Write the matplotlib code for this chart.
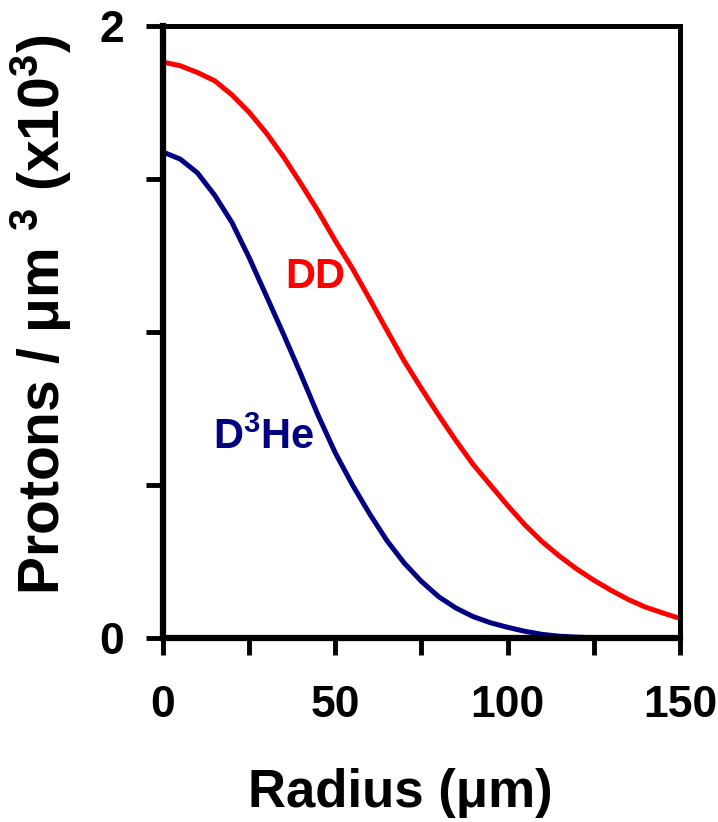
import matplotlib
matplotlib.use("Agg")
import matplotlib.pyplot as plt

radius = [0, 5, 10, 15, 20, 25, 30, 35, 40, 45, 50, 55, 60, 65, 70, 75, 80,
          85, 90, 95, 100, 105, 110, 115, 120, 125, 130, 135, 140, 145, 150]
dd = [1.882, 1.870, 1.848, 1.821, 1.775, 1.718, 1.650, 1.572, 1.485, 1.395,
      1.298, 1.207, 1.107, 1.005, 0.905, 0.815, 0.728, 0.645, 0.567, 0.500,
      0.433, 0.370, 0.315, 0.268, 0.226, 0.189, 0.156, 0.126, 0.101, 0.082, 0.064]
d3he = [1.588, 1.565, 1.520, 1.447, 1.358, 1.243, 1.118, 0.992, 0.862, 0.728,
        0.605, 0.500, 0.405, 0.318, 0.245, 0.185, 0.135, 0.098, 0.070, 0.050,
        0.035, 0.022, 0.012, 0.006, 0.003, 0.001, 0.0, 0.0, 0.0, 0.0, 0.0]

x_ticks = [0, 25, 50, 75, 100, 125, 150]
x_labels = ["0", "", "50", "", "100", "", "150"]
y_ticks = [0, 0.5, 1.0, 1.5, 2.0]
y_labels = ["0", "", "", "", "2"]

plt.rcParams['font.family'] = ['Liberation Sans', 'DejaVu Sans']
plt.rcParams['font.weight'] = 'bold'
plt.rcParams['mathtext.fontset'] = 'custom'
plt.rcParams['mathtext.rm'] = 'Liberation Sans:bold'
plt.rcParams['mathtext.bf'] = 'Liberation Sans:bold'
plt.rcParams['mathtext.it'] = 'Liberation Sans:bold'
plt.rcParams['mathtext.default'] = 'bf'

fig = plt.figure(figsize=(7.18, 8.22), dpi=100)
ax = fig.add_axes([0.227, 0.2238, 0.720, 0.7446])

ax.plot(radius, dd, color='#FF0000', lw=3.6, solid_capstyle='butt')
ax.plot(radius, d3he, color='#000080', lw=3.6, solid_capstyle='butt')

ax.set_xlim(0, 150)
ax.set_ylim(0, 2)
ax.set_xticks(x_ticks)
ax.set_xticklabels(x_labels)
ax.set_yticks(y_ticks)
ax.set_yticklabels(y_labels)

for side in ['left', 'bottom']:
    ax.spines[side].set_linewidth(4.5)
for side in ['top', 'right']:
    ax.spines[side].set_linewidth(3.6)

ax.tick_params(axis='y', direction='out', length=12, width=3.5, pad=16,
               labelsize=32)
ax.tick_params(axis='x', direction='out', length=12, width=3.5, pad=22,
               labelsize=32)
for t in ax.get_xticklines() + ax.get_yticklines():
    t.set_solid_capstyle('round')
for lbl in ax.get_xticklabels() + ax.get_yticklabels():
    lbl.set_fontweight('bold')

ax.text(35.5, 1.18, "DD", color='#FF0000', fontsize=30, fontweight='bold',
        ha='left', va='center')
ax.text(14.5, 0.655, "D$^{3}$He", color='#000080', fontsize=30, fontweight='bold',
        ha='left', va='center')

fig.text(0.557, 0.035, "Radius (μm)", fontsize=38, fontweight='bold',
         ha='center', va='center')
fig.text(0.058, 0.617, "Protons / μm $^{3}$ (x10$^{3}$)", fontsize=41,
         fontweight='bold', ha='center', va='center', rotation=90)

fig.savefig("out.png", dpi=100)
